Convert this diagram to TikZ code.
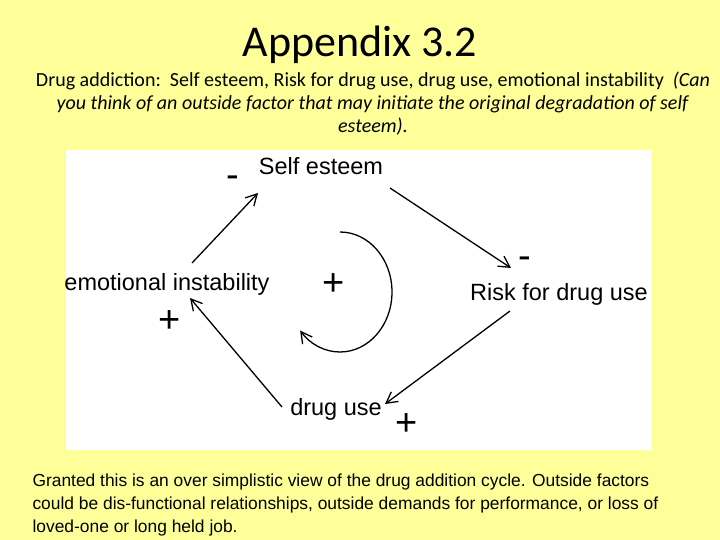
\documentclass[tikz,border=0pt]{standalone}
\usepackage{fontspec}
\setmainfont{Liberation Sans}
\newfontfamily\slidefont{Carlito}
\usetikzlibrary{arrows.meta}

\definecolor{slideyellow}{HTML}{FFFF99}

\tikzset{
  concept/.style={anchor=base, inner sep=0pt, font=\fontsize{23.5}{28}\selectfont},
  sign/.style={inner sep=0pt, font=\fontsize{38}{42}\selectfont},
  link/.style={-{Straight Barb[length=11pt,width=12pt]}, line width=1.3pt},
}

\begin{document}
\begin{tikzpicture}[x=1pt,y=1pt]

\fill [slideyellow] (0,0) rectangle (720,-540);
\useasboundingbox (0,0) rectangle (720,-540);
\fill [white] (66,-150) rectangle (652,-450);

\node (title) at (360,-57) [anchor=base, font=\slidefont\fontsize{44}{50}\selectfont] {Appendix 3.2};
% base of a multi-line node = baseline of its last line
\node (intro) at (373,-133) [anchor=base, align=center, font=\slidefont\fontsize{20}{23.3}\selectfont]
  {Drug addiction:\ \ Self esteem, Risk for drug use, drug use, emotional instability\ \ \textit{(Can}\\
   \textit{you think of an outside factor that may initiate the original degradation of self}\\
   \textit{esteem).}};

%-----------------------------------------------------
\node (self) at (321,-175) [concept] {Self esteem};
\node (emo) at (167,-290) [concept] {emotional instability};
\node (risk) at (559,-300) [concept] {Risk for drug use};
\node (drug) at (336,-415) [concept] {drug use};

\draw [link] ([shift={(25,27)}]emo.base) -- ([shift={(-63,-18)}]self.base);
\draw [link] ([shift={(69,-13)}]self.base) -- ([shift={(-48,32)}]risk.base);
\draw [link] ([shift={(-49,-11)}]risk.base) -- ([shift={(49,11)}]drug.base);
\draw [link] ([shift={(-54,8)}]drug.base) -- ([shift={(23,-8)}]emo.base);

\node (minus1) at (233,-182) [sign] {-};
\node (minus2) at (525,-263) [sign] {-};
\node (plus1) at (170,-322) [sign] {+};
\node (plus2) at (407,-425) [sign] {+};

%-----------------------------------------------------
\coordinate (loop) at (340,-292);
\draw [link] ([yshift=60]loop) arc[start angle=90, end angle=-140, x radius=52, y radius=60];
\node (loopsign) at (334,-285) [sign] {+};

%-----------------------------------------------------
\node (note) at (29,-532) [anchor=base west, align=left, font=\fontsize{17.4}{22.6}\selectfont]
  {Granted this is an over simplistic view of the drug addition cycle. Outside factors\\
   could be dis-functional relationships, outside demands for performance, or loss of\\
   loved-one or long held job.};

\end{tikzpicture}
\end{document}
